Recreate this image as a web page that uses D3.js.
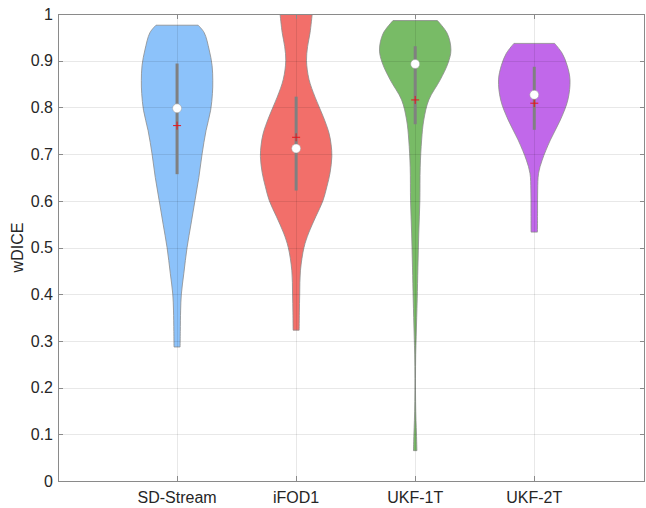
<!DOCTYPE html>
<html>
<head>
<meta charset="utf-8">
<script src="https://cdn.jsdelivr.net/npm/d3@7"></script>
<style>
  html, body { margin: 0; padding: 0; background: #fff; }
  svg { display: block; font-family: "Liberation Sans", Arial, sans-serif; }
</style>
</head>
<body>
<svg id="chart" width="646" height="508"></svg>
<script>
// ---- data ----
const groups = ['SD-Stream', 'iFOD1', 'UKF-1T', 'UKF-2T'];
const colors = ['#8cc2fa', '#f26f6a', '#78bb66', '#c168ea'];

// violin outlines: [value, density normalised to 1 at the widest point]
const sdStream = [[0.287,0.085],[0.32,0.09],[0.366,0.10],[0.40,0.12],[0.445,0.19],[0.50,0.28],
  [0.55,0.39],[0.60,0.50],[0.65,0.61],[0.70,0.70],[0.75,0.81],[0.794,0.94],[0.83,0.99],
  [0.857,1.0],[0.89,0.98],[0.923,0.90],[0.96,0.76],[0.976,0.59]];
const ifod1 = [[0.323,0.085],[0.36,0.09],[0.40,0.10],[0.45,0.12],[0.50,0.22],[0.531,0.35],
  [0.566,0.55],[0.60,0.75],[0.63,0.86],[0.66,0.95],[0.695,1.0],[0.72,0.98],[0.745,0.92],
  [0.78,0.76],[0.822,0.53],[0.86,0.36],[0.90,0.29],[0.93,0.32],[0.96,0.39],[1.0,0.45]];
const ukf1t = [[0.065,0.048],[0.10,0.036],[0.13,0.022],[0.17,0.011],[0.22,0.008],[0.27,0.014],
  [0.31,0.028],[0.35,0.042],[0.39,0.056],[0.458,0.076],[0.531,0.10],[0.60,0.13],[0.672,0.14],
  [0.73,0.18],[0.773,0.24],[0.816,0.38],[0.859,0.70],[0.895,0.92],[0.923,1.0],[0.958,0.90],[0.986,0.62]];
const ukf2t = [[0.533,0.09],[0.58,0.092],[0.623,0.095],[0.659,0.12],[0.687,0.22],[0.73,0.45],
  [0.773,0.73],[0.816,0.94],[0.859,1.0],[0.89,0.92],[0.916,0.78],[0.937,0.57]];
const violins = [sdStream, ifod1, ukf1t, ukf2t];

const q1s     = [0.657, 0.622, 0.764, 0.752];
const q3s     = [0.894, 0.823, 0.931, 0.887];
const medians = [0.798, 0.712, 0.893, 0.827];
const means   = [0.761, 0.736, 0.816, 0.809];

const yTicks = [0, 0.1, 0.2, 0.3, 0.4, 0.5, 0.6, 0.7, 0.8, 0.9, 1];
const yTickLabels = ['0', '0.1', '0.2', '0.3', '0.4', '0.5', '0.6', '0.7', '0.8', '0.9', '1'];

// ---- layout ----
const svg = d3.select('#chart');
const m = { t: 14, r: 1, b: 27, l: 58 };
const W = 646, H = 508;
const x = d3.scaleLinear().domain([0, 4.93]).range([m.l, W - m.r]);
const y = d3.scaleLinear().domain([0, 1]).range([H - m.b, m.t]);
const halfMax = 0.3; // max half width in category units
const axisCol = '#8a8a8a', textCol = '#262626';

svg.append('defs').append('clipPath').attr('id', 'plot-clip')
  .append('rect').attr('x', m.l).attr('y', m.t)
  .attr('width', W - m.r - m.l).attr('height', H - m.b - m.t);

const plot = svg.append('g').attr('clip-path', 'url(#plot-clip)');

// violins
violins.forEach((pts, i) => {
  const c = i + 1;
  const area = d3.area()
    .y(d => y(d[0]))
    .x0(d => x(c - d[1] * halfMax))
    .x1(d => x(c + d[1] * halfMax))
    .curve(d3.curveCatmullRom);
  plot.append('path').datum(pts)
    .attr('d', area)
    .attr('fill', colors[i])
    .attr('stroke', '#8c8c8c').attr('stroke-width', 0.8);
});

// grid on top, faint
const grid = plot.append('g').attr('stroke', '#000').attr('stroke-opacity', 0.09).attr('stroke-width', 1);
yTicks.forEach(t => {
  grid.append('line').attr('x1', m.l).attr('x2', W - m.r)
    .attr('y1', Math.round(y(t)) + 0.5).attr('y2', Math.round(y(t)) + 0.5);
});
groups.forEach((g, i) => {
  grid.append('line').attr('x1', Math.round(x(i + 1)) + 0.5).attr('x2', Math.round(x(i + 1)) + 0.5)
    .attr('y1', m.t).attr('y2', H - m.b);
});

// boxes, medians, means
groups.forEach((g, i) => {
  const cx = x(i + 1);
  plot.append('line').attr('x1', cx).attr('x2', cx)
    .attr('y1', y(q1s[i])).attr('y2', y(q3s[i]))
    .attr('stroke', '#808080').attr('stroke-width', 3);
  const my = y(means[i]);
  plot.append('line').attr('x1', cx - 4).attr('x2', cx + 4).attr('y1', my).attr('y2', my)
    .attr('stroke', '#e8141b').attr('stroke-width', 1);
  plot.append('line').attr('x1', cx).attr('x2', cx).attr('y1', my - 4).attr('y2', my + 4)
    .attr('stroke', '#e8141b').attr('stroke-width', 1);
  plot.append('circle').attr('cx', cx).attr('cy', y(medians[i])).attr('r', 4.5)
    .attr('fill', '#fff').attr('stroke', '#9a9a9a').attr('stroke-width', 0.5);
});

// axes box with inward ticks
const xb = x.range(), yb = y.range();
const axisG = svg.append('g').attr('stroke', axisCol).attr('stroke-width', 1).attr('fill', 'none');
axisG.append('rect').attr('x', xb[0] + 0.5).attr('y', yb[1] + 0.5)
  .attr('width', xb[1] - xb[0] - 1).attr('height', yb[0] - yb[1]);
yTicks.forEach(t => {
  const ty = Math.round(y(t)) + 0.5;
  axisG.append('line').attr('x1', xb[0]).attr('x2', xb[0] + 5).attr('y1', ty).attr('y2', ty);
  axisG.append('line').attr('x1', xb[1] - 5).attr('x2', xb[1]).attr('y1', ty).attr('y2', ty);
});
groups.forEach((g, i) => {
  const tx = Math.round(x(i + 1)) + 0.5;
  axisG.append('line').attr('x1', tx).attr('x2', tx).attr('y1', yb[0]).attr('y2', yb[0] - 5);
  axisG.append('line').attr('x1', tx).attr('x2', tx).attr('y1', yb[1]).attr('y2', yb[1] + 5);
});

// labels
yTicks.forEach((t, i) => {
  svg.append('text').attr('x', m.l - 5).attr('y', y(t)).attr('dy', '0.36em')
    .attr('text-anchor', 'end').attr('font-size', 16).attr('fill', textCol)
    .text(yTickLabels[i]);
});
groups.forEach((g, i) => {
  svg.append('text').attr('x', x(i + 1)).attr('y', 503)
    .attr('text-anchor', 'middle').attr('font-size', 16).attr('fill', textCol)
    .text(g);
});
svg.append('text')
  .attr('transform', `translate(23,${(yb[0] + yb[1]) / 2}) rotate(-90)`)
  .attr('text-anchor', 'middle').attr('font-size', 16).attr('fill', textCol)
  .text('wDICE');
</script>
</body>
</html>
